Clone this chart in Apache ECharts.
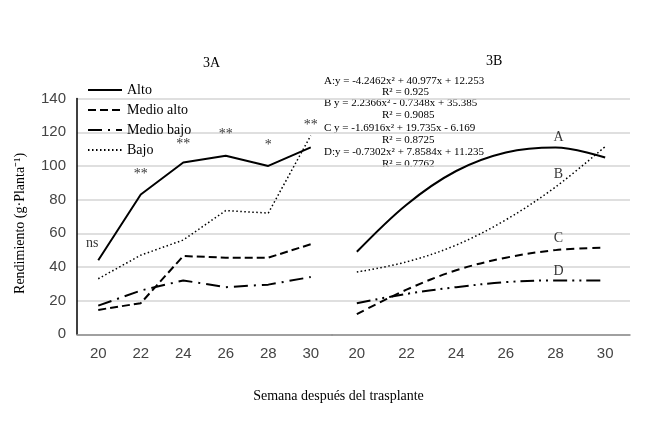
<!DOCTYPE html>
<html><head><meta charset="utf-8">
<script src="https://cdn.jsdelivr.net/npm/echarts@6/dist/echarts.min.js"></script>
<style>html,body{margin:0;padding:0;background:#fff}#c{width:662px;height:443px}</style>
</head><body><div id="c"></div>
<script>
const weeks = ['20','22','24','26','28','30'];
const alto = [44, 83, 102, 106, 100, 111];
const medioAlto = [14.5, 18.5, 46.5, 45.5, 45.5, 53.5];
const medioBajo = [17, 26, 32, 28, 29.5, 34];
const bajo = [33, 47, 56, 73.5, 72, 118];
const sigLabels = ['ns', '**', '**', '**', '*', '**'];
const sigValues = [54, 95, 113, 119, 112, 124];
const fitA = [49, 77, 97, 108, 111, 105];
const fitB = [37, 43, 53, 68, 87.5, 111.5];
const fitC = [12, 26.5, 38, 45.5, 50, 51.5];
const fitD = [18.5, 24, 28, 31, 32, 32];
const curveNames = ['A', 'B', 'C', 'D'];
const curveLabelValues = [117, 95, 57, 37.5];
const equations = [
  'A:y = -4.2462x² + 40.977x + 12.253', 'R² = 0.925',
  'B y = 2.2366x² - 0.7348x + 35.385', 'R² = 0.9085',
  'C y = -1.6916x² + 19.735x - 6.169', 'R² = 0.8725',
  'D:y = -0.7302x² + 7.8584x + 11.235', 'R² = 0.7762'
];

const serif = 'Liberation Serif';
const sans = 'Liberation Sans';
const chart = echarts.init(document.getElementById('c'));
const yBase = {type:'value', min:0, max:140, interval:20,
  splitLine:{show:true, lineStyle:{color:'#d4d4d4', width:1.5}},
  axisTick:{show:false}};
const xBase = {type:'category', data:weeks, boundaryGap:true,
  axisTick:{show:false}, axisLine:{lineStyle:{color:'#8c8c8c', width:1.5}},
  axisLabel:{fontFamily:sans, fontSize:15, color:'#444', margin:12}};
function line(name, data, type, width, xi, smooth){
  return {name, type:'line', data, xAxisIndex:xi, yAxisIndex:xi, symbol:'none',
    smooth: smooth||false, lineStyle:{color:'#000', width, type}, itemStyle:{color:'#000'}, z:3};
}
const eqTops = [76,87,98,110,123,135,147,159];
const eqGraphics = equations.map((t,i)=>({
  type:'text', left: i%2===0 ? 324 : 382, top: eqTops[i],
  style:{text:t, font:'11px ' + serif, fill:'#000'}
}));

chart.setOption({
  animation:false,
  grid:[
    {left:77, right:330, top:98.6, bottom:108.7},
    {left:332, right:32, top:98.6, bottom:108.7}
  ],
  xAxis:[
    Object.assign({}, xBase, {gridIndex:0, name:'Semana después del trasplante', nameLocation:'middle', nameGap:55,
      nameTextStyle:{fontFamily:serif, fontSize:14, color:'#000', padding:[0,0,0,268]}}),
    Object.assign({}, xBase, {gridIndex:1})
  ],
  yAxis:[
    Object.assign({}, yBase, {gridIndex:0, axisLine:{show:true, lineStyle:{color:'#000', width:1.5}},
      axisLabel:{fontFamily:sans, fontSize:15, color:'#444', margin:11},
      name:'Rendimiento (g·Planta⁻¹)', nameLocation:'middle', nameGap:50, nameRotate:90,
      nameTextStyle:{fontFamily:serif, fontSize:14, color:'#000', padding:[0,14,0,0]}}),
    Object.assign({}, yBase, {gridIndex:1, axisLine:{show:false}, axisLabel:{show:false}})
  ],
  legend:{orient:'vertical', left:82, top:78, itemWidth:34, itemHeight:10, itemGap:6,
    itemStyle:{opacity:0},
    data:['Alto','Medio alto','Medio bajo','Bajo'],
    textStyle:{fontFamily:serif, fontSize:14, color:'#000'}},
  title:[
    {text:'3A', left:198, top:51, textStyle:{fontFamily:serif, fontSize:14, fontWeight:'normal', color:'#000'}},
    {text:'3B', left:481, top:49, textStyle:{fontFamily:serif, fontSize:14, fontWeight:'normal', color:'#000'}}
  ],
  graphic: eqGraphics,
  series:[
    line('Alto', alto, 'solid', 2, 0),
    line('Medio alto', medioAlto, [8,4], 2, 0),
    line('Medio bajo', medioBajo, [14,6,2,6], 2, 0),
    line('Bajo', bajo, [1.5,2.5], 1.5, 0),
    {type:'scatter', xAxisIndex:0, yAxisIndex:0, symbolSize:0, silent:true,
      data: sigValues.map((v,i)=>({value:[i,v], name:sigLabels[i],
        label: i===0 ? {offset:[-6,0]} : {}})),
      label:{show:true, position:'inside', formatter:p=>p.name, fontFamily:serif, fontSize:14, color:'#000'}},
    line('A', fitA, 'solid', 2, 1, 0.35),
    line('B', fitB, [1.5,2.5], 1.5, 1, 0.35),
    line('C', fitC, [8,5], 2, 1, 0.35),
    line('D', fitD, [14,5,2,5,2,5], 2, 1, 0.35),
    {type:'scatter', xAxisIndex:1, yAxisIndex:1, symbolSize:0, silent:true,
      data: curveLabelValues.map((v,i)=>({value:[4,v], name:curveNames[i]})),
      label:{show:true, position:'inside', formatter:p=>p.name, fontFamily:serif, fontSize:14, color:'#000', offset:[3,0]}}
  ]
});
</script></body></html>
